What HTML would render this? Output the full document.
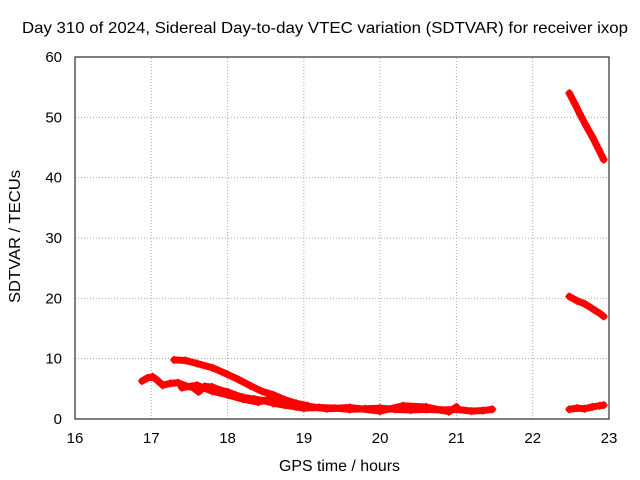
<!DOCTYPE html>
<html><head><meta charset="utf-8"><style>
body{margin:0;background:#fff;}
svg{display:block;font-family:"Liberation Sans",sans-serif;}
</style></head><body>
<svg id="chart" width="640" height="480"></svg>
<script>
const xTicks=[16,17,18,19,20,21,22,23];
const yTicks=[0,10,20,30,40,50,60];
const seriesA=[[16.88,6.3],[16.95,6.8],[17.02,7.0],[17.08,6.4],[17.15,5.6],[17.25,5.9],[17.35,6.0],[17.45,5.5],[17.55,5.2],[17.62,4.5],[17.7,5.4],[17.8,5.3],[17.9,4.8],[18.0,4.5],[18.1,4.0],[18.2,3.6],[18.35,3.3],[18.5,3.0],[18.6,2.6],[18.75,2.3],[18.9,2.0],[19.0,1.8],[19.2,1.9],[19.4,1.8],[19.6,1.6],[19.8,1.7],[20.0,1.8],[20.2,1.6],[20.4,1.5],[20.6,1.6],[20.8,1.5],[21.0,1.6],[21.2,1.3],[21.35,1.4],[21.47,1.6]];
const seriesA2=[[17.4,5.2],[17.6,5.6],[17.8,4.6],[18.0,4.0],[18.2,3.3],[18.4,2.8],[18.6,3.5],[18.8,2.4],[19.0,2.2],[19.3,1.7],[19.6,1.9],[20.0,1.3],[20.3,2.2],[20.6,2.0],[20.9,1.2],[21.0,2.0]];
const seriesB=[[17.3,9.8],[17.45,9.7],[17.6,9.2],[17.8,8.5],[18.0,7.4],[18.15,6.5],[18.3,5.5],[18.45,4.6],[18.6,4.0],[18.75,3.2],[18.9,2.6],[19.05,2.2]];
const seriesC=[[22.48,54.0],[22.55,52.3],[22.62,50.5],[22.7,48.6],[22.78,46.8],[22.86,44.8],[22.93,43.0]];
const seriesD=[[22.48,20.3],[22.58,19.6],[22.68,19.1],[22.78,18.3],[22.88,17.5],[22.93,17.0]];
const seriesE=[[22.48,1.6],[22.58,1.8],[22.68,1.7],[22.78,2.0],[22.88,2.2],[22.93,2.3]];
const allSeries=[seriesA,seriesA2,seriesB,seriesC,seriesD,seriesE];
const X0=75,X1=609,Y0=419,Y1=57;
const xs=v=>X0+(v-16)/7*(X1-X0);
const ys=v=>Y0-v/60*(Y0-Y1);
const svg=document.getElementById('chart');
const NS='http://www.w3.org/2000/svg';
function mk(t,a,txt){const e=document.createElementNS(NS,t);for(const k in a)e.setAttribute(k,a[k]);if(txt!==undefined)e.textContent=txt;svg.appendChild(e);return e;}
xTicks.forEach(t=>{
 if(t>16&&t<23){const g=mk('line',{x1:xs(t),x2:xs(t),y1:Y0,y2:Y1,stroke:'#aaa','stroke-dasharray':'1,2'});
 
 }
 const l=mk('text',{x:xs(t),y:443,'text-anchor':'middle','font-size':15},t);
 
 
});
yTicks.forEach(t=>{
 if(t>0&&t<60){const g=mk('line',{x1:X0,x2:X1,y1:ys(t),y2:ys(t),stroke:'#aaa','stroke-dasharray':'1,2'});
 
 }
 const l=mk('text',{x:62,y:ys(t)+5,'text-anchor':'end','font-size':15},t);
 
 
});
const fr=mk('rect',{x:X0,y:Y1,width:X1-X0,height:Y0-Y1,fill:'none',stroke:'#000'});


allSeries.forEach((s,i)=>{
 const p=mk('polyline',{points:s.map(d=>xs(d[0])+','+ys(d[1])).join(' '),fill:'none',stroke:'#f00','stroke-width':7,'stroke-linejoin':'round','stroke-linecap':'round'});
 
 
 s.forEach(d=>{
  const m=mk('path',{d:`M${xs(d[0])-4},${ys(d[1])}h8M${xs(d[0])},${ys(d[1])-4}v8`,stroke:'#f00','stroke-width':1.5});
  
  
 });
});
const t=mk('text',{x:22,y:33,'font-size':16,textLength:606,lengthAdjust:'spacingAndGlyphs'},'Day 310 of 2024, Sidereal Day-to-day VTEC variation (SDTVAR) for receiver ixop');


const xt=mk('text',{x:279,y:471,'font-size':16,textLength:121,lengthAdjust:'spacingAndGlyphs'},'GPS time / hours');


const yt=mk('text',{x:0,y:0,'font-size':16,textLength:133,lengthAdjust:'spacingAndGlyphs',transform:'translate(20 303) rotate(-90)'},'SDTVAR / TECUs');


</script>
</body></html>
